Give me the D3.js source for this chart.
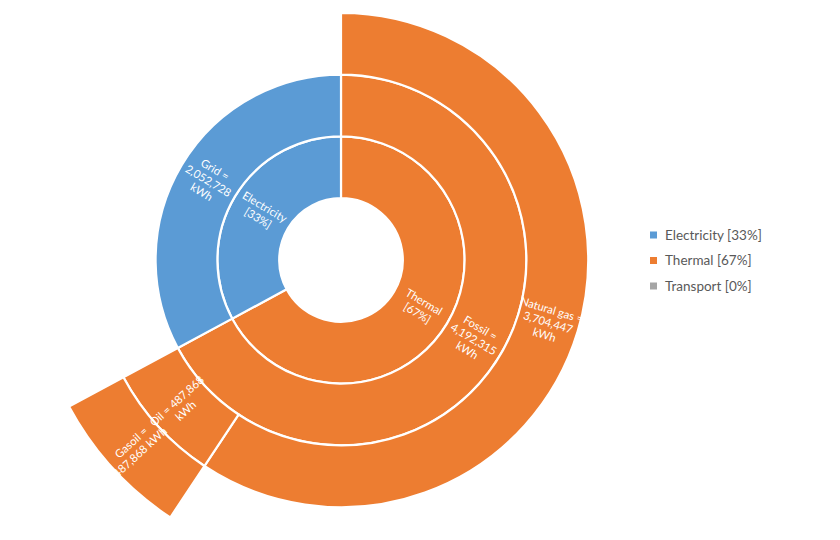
<!DOCTYPE html>
<html>
<head>
<meta charset="utf-8">
<script src="https://cdn.jsdelivr.net/npm/d3@7"></script>
<style>
html,body{margin:0;padding:0;background:#fff;}
svg{display:block;}
</style>
</head>
<body>
<svg id="chart" width="840" height="540"></svg>
<script>
// ---- data ----
const categories = ["Electricity", "Thermal", "Transport"];
const categoryShares = ["33%", "67%", "0%"];
const categoryColors = ["#5B9BD5", "#ED7D31", "#A5A5A5"];

// hierarchy nodes (drawing order clockwise from 12 o'clock)
const nodeNames   = ["Thermal", "Fossil", "Natural gas", "Oil", "Gasoil", "Electricity", "Grid", "Transport"];
const nodeParents = ["Total",   "Thermal", "Fossil",     "Fossil", "Oil", "Total",       "Electricity", "Total"];
const leafValues  = [0,          0,        3704447,      0,     487868,   0,             2052728,        0];
const labelLines  = [
  ["Thermal", "[67%]"],
  ["Fossil =", "4,192,315", "kWh"],
  ["Natural gas =", "3,704,447", "kWh"],
  ["Oil = 487,868", "kWh"],
  ["Gasoil =", "487,868 kWh"],
  ["Electricity", "[33%]"],
  ["Grid =", "2,052,728", "kWh"],
  []
];

// ---- build hierarchy ----
const table = [{id: "Total", parent: null, value: 0, idx: -1}].concat(
  nodeNames.map((n, i) => ({id: n, parent: nodeParents[i], value: leafValues[i], idx: i}))
);
const root = d3.stratify().id(d => d.id).parentId(d => d.parent)(table)
  .sum(d => d.value);

const outerR = 309;
d3.partition().size([2 * Math.PI, outerR])(root);

const cx = 341, cy = 260;
const svg = d3.select("#chart");
const g = svg.append("g").attr("transform", `translate(${cx},${cy})`);

function topCategory(d) {
  let n = d;
  while (n.depth > 1) n = n.parent;
  return n.data.id;
}
const color = d3.scaleOrdinal().domain(categories).range(categoryColors);

const arc = d3.arc()
  .startAngle(d => d.x0)
  .endAngle(d => d.x1)
  .innerRadius(d => d.y0)
  .outerRadius(d => d.y1);

const nodes = root.descendants().filter(d => d.depth > 0 && d.value > 0);

g.selectAll("path.seg")
  .data(nodes)
  .join("path")
  .attr("class", "seg")
  .attr("d", arc)
  .attr("fill", d => color(topCategory(d)))
  .attr("stroke", "#ffffff")
  .attr("stroke-width", 2.2);

// ---- labels ----
const fontFamily = "Lato, 'Open Sans', 'Liberation Sans', sans-serif";
const lineH = 13;
const lab = g.selectAll("g.lab")
  .data(nodes)
  .join("g")
  .attr("class", "lab")
  .attr("transform", d => {
    const a = (d.x0 + d.x1) / 2;
    const r = (d.y0 + d.y1) / 2;
    const x = r * Math.sin(a), y = -r * Math.cos(a);
    const deg = a * 180 / Math.PI;
    const rot = deg < 180 ? deg - 90 : deg - 270;
    return `translate(${x},${y}) rotate(${rot})`;
  });

lab.each(function(d) {
  const lines = labelLines[d.data.idx] || [];
  const t = d3.select(this).append("text")
    .attr("text-anchor", "middle")
    .attr("fill", "#ffffff")
    .attr("font-family", fontFamily)
    .attr("font-size", 11.3);
  const off = -(lines.length - 1) * lineH / 2;
  lines.forEach((s, i) => {
    t.append("tspan")
      .attr("x", 0)
      .attr("y", off + i * lineH)
      .attr("dy", "0.35em")
      .text(s);
  });
});

// ---- legend ----
const legend = svg.append("g").attr("transform", "translate(650,235)");
const items = legend.selectAll("g.item")
  .data(categories)
  .join("g")
  .attr("class", "item")
  .attr("transform", (d, i) => `translate(0,${i * 25.5})`);
items.append("rect")
  .attr("x", 0).attr("y", -3.5)
  .attr("width", 7).attr("height", 7)
  .attr("fill", (d, i) => categoryColors[i]);
items.append("text")
  .attr("x", 15).attr("y", 0)
  .attr("dy", "0.35em")
  .attr("font-family", fontFamily)
  .attr("font-size", 13.5)
  .attr("fill", "#595959")
  .text((d, i) => `${d} [${categoryShares[i]}]`);
</script>
</body>
</html>
